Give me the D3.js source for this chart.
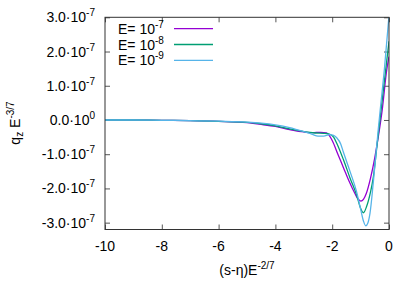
<!DOCTYPE html>
<html><head><meta charset="utf-8">
<script src="https://cdn.jsdelivr.net/npm/d3@7"></script>
<style>body{margin:0;background:#fff}svg{display:block}text{font-family:"Liberation Sans",Arial,sans-serif;fill:#000}</style>
</head><body><svg id="c" width="415" height="291"></svg>
<script>
const xTicks = [-10, -8, -6, -4, -2, 0];
const yTicks = [-3, -2, -1, 0, 1, 2, 3]; // units of 1e-7
const yTickMant = ["-3.0", "-2.0", "-1.0", "0.0", "1.0", "2.0", "3.0"];
const yTickExp = ["-7", "-7", "-7", "0", "-7", "-7", "-7"];
const seriesNames = ["-7", "-8", "-9"];
const seriesColors = ["#9400d3", "#009e73", "#56b4e9"];
const xE7 = [-10,-9,-8,-7,-6,-5,-4.5,-4,-3.5,-3,-2.7,-2.4,-2.2,-2.0,-1.8,-1.6,-1.4,-1.2,-1.1,-0.99,-0.9,-0.8,-0.65,-0.5,-0.35,-0.24,-0.08,0];
const yE7 = [0,-0.005,-0.01,-0.02,-0.04,-0.08,-0.13,-0.19,-0.28,-0.35,-0.37,-0.36,-0.38,-0.6,-1.0,-1.4,-1.8,-2.15,-2.3,-2.37,-2.32,-2.15,-1.7,-1.1,-0.35,0.29,1.46,1.85];
const xE8 = [-10,-9,-8,-7,-6,-5,-4.5,-4,-3.5,-3,-2.6,-2.3,-2.1,-1.95,-1.84,-1.6,-1.37,-1.14,-1.0,-0.9,-0.79,-0.65,-0.55,-0.4,-0.3,-0.12,0];
const yE8 = [0,0,-0.01,-0.02,-0.04,-0.07,-0.11,-0.17,-0.26,-0.34,-0.38,-0.39,-0.41,-0.5,-0.68,-1.17,-1.7,-2.19,-2.58,-2.71,-2.53,-2.1,-1.66,-0.58,0.14,1.44,2.3];
const xE9 = [-10,-9,-8,-7,-6,-5,-4.5,-4,-3.5,-3,-2.7,-2.5,-2.3,-2.1,-1.95,-1.84,-1.7,-1.61,-1.37,-1.14,-1.0,-0.9,-0.82,-0.74,-0.67,-0.55,-0.38,-0.31,-0.165,0];
const yE9 = [0,0,-0.01,-0.02,-0.035,-0.06,-0.09,-0.14,-0.22,-0.34,-0.42,-0.47,-0.47,-0.43,-0.45,-0.52,-0.7,-0.93,-1.51,-2.1,-2.6,-2.95,-3.09,-3.0,-2.73,-1.8,-0.29,0.29,1.46,3.05];
const series = [[xE7,yE7],[xE8,yE8],[xE9,yE9]];

const svg = d3.select("#c");
const L=105, R=389, T=17.3, B=229.5;
const FS=14, SS=10, SUP=-6;
const x = d3.scaleLinear().domain([-10,0]).range([L,R]);
const y = d3.scaleLinear().domain([-3.2,3]).range([B,T]);

svg.append("defs").append("clipPath").attr("id","clip").append("rect")
  .attr("x",L).attr("y",T).attr("width",R-L).attr("height",B-T);

const g = svg.append("g");
const tk = 5;
g.append("g").attr("transform",`translate(0,${B})`)
  .call(d3.axisBottom(x).tickValues(xTicks).tickSizeInner(-tk).tickSizeOuter(0).tickFormat(""))
  .call(a=>a.select(".domain").remove());
g.append("g").attr("transform",`translate(0,${T})`)
  .call(d3.axisTop(x).tickValues(xTicks).tickSizeInner(-tk).tickSizeOuter(0).tickFormat(""))
  .call(a=>a.select(".domain").remove());
g.append("g").attr("transform",`translate(${L},0)`)
  .call(d3.axisLeft(y).tickValues(yTicks).tickSizeInner(-tk).tickSizeOuter(0).tickFormat(""))
  .call(a=>a.select(".domain").remove());
g.append("g").attr("transform",`translate(${R},0)`)
  .call(d3.axisRight(y).tickValues(yTicks).tickSizeInner(-tk).tickSizeOuter(0).tickFormat(""))
  .call(a=>a.select(".domain").remove());
g.selectAll(".tick line").attr("stroke","#555").attr("stroke-width",1);

xTicks.forEach(v=>{
  g.append("text").attr("x",x(v)).attr("y",B+21).attr("text-anchor","middle")
   .attr("font-size",FS).text(v);
});
yTicks.forEach((v,i)=>{
  const t = g.append("text").attr("x",L-10).attr("y",y(v)+5).attr("text-anchor","end").attr("font-size",FS);
  t.append("tspan").text(yTickMant[i]+"\u00b710");
  t.append("tspan").attr("dy",SUP).attr("font-size",SS).text(yTickExp[i]);
});

const line = d3.line().x(d=>x(d[0])).y(d=>y(d[1])).curve(d3.curveMonotoneX);
const pg = svg.append("g").attr("clip-path","url(#clip)");
series.forEach((s,i)=>{
  const pts = s[0].map((xv,j)=>[xv,s[1][j]]);
  pg.append("path").attr("d",line(pts)).attr("fill","none")
    .attr("stroke",seriesColors[i]).attr("stroke-width",1.3);
});

svg.append("rect").attr("x",L).attr("y",T).attr("width",R-L).attr("height",B-T)
  .attr("fill","none").attr("stroke","#333").attr("stroke-width",1);

seriesNames.forEach((n,i)=>{
  const yy = 28.7 + i*15.8;
  const t = svg.append("text").attr("x",118).attr("y",yy+5).attr("font-size",FS);
  t.append("tspan").text("E= 10");
  t.append("tspan").attr("dy",SUP).attr("font-size",SS).text(n);
  svg.append("line").attr("x1",174).attr("x2",213).attr("y1",yy).attr("y2",yy)
    .attr("stroke",seriesColors[i]).attr("stroke-width",1.3);
});

const xt = svg.append("text").attr("x",247).attr("y",275).attr("text-anchor","middle").attr("font-size",FS);
xt.append("tspan").text("(s-\u03b7)E");
xt.append("tspan").attr("dy",SUP).attr("font-size",SS).text("-2/7");

const yt = svg.append("text").attr("transform","translate(20,123) rotate(-90)").attr("text-anchor","middle").attr("font-size",FS);
yt.append("tspan").text("q");
yt.append("tspan").attr("dy",3).attr("font-size",SS).text("z");
yt.append("tspan").attr("dy",-3).text(" E");
yt.append("tspan").attr("dy",SUP).attr("font-size",SS).text("-3/7");
</script></body></html>
